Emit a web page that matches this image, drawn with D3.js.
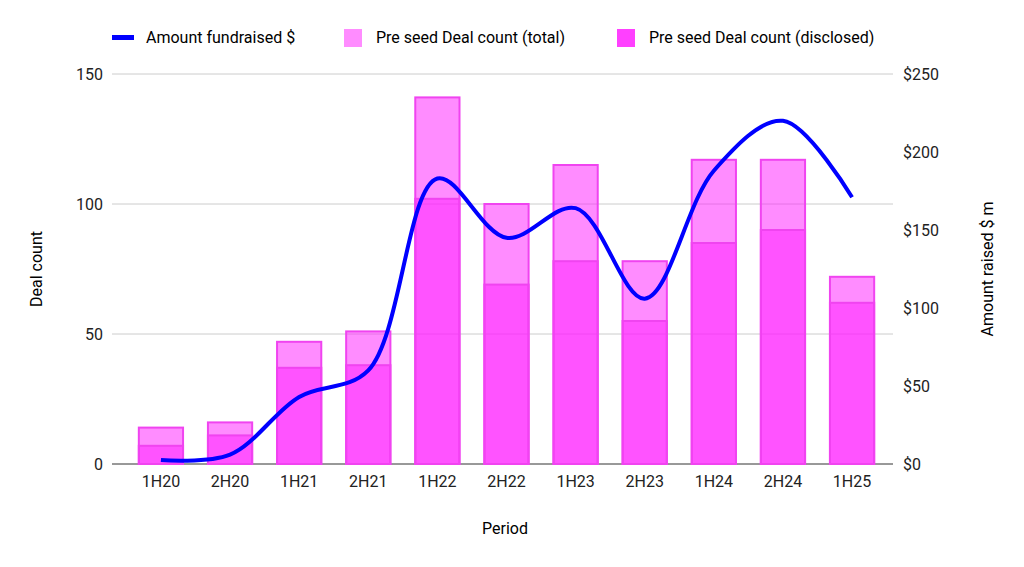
<!DOCTYPE html>
<html>
<head>
<script src="https://cdnjs.cloudflare.com/ajax/libs/d3/7.8.5/d3.min.js"></script>
<style>body{margin:0;background:#fff}text{font-family:Roboto,"Liberation Sans",Arial,sans-serif}</style>
</head>
<body>
<svg id="chart" width="1024" height="567"></svg>
<script>
const periods = ["1H20","2H20","1H21","2H21","1H22","2H22","1H23","2H23","1H24","2H24","1H25"]
const dealsTotal = [14,16,47,51,141,100,115,78,117,117,72]
const dealsDisclosed = [7,11,37,38,102,69,78,55,85,90,62]
const amountRaised = [2.5,6,43,60,183,145,164,106,188,220,171]
const leftTicks = [0,50,100,150]
const rightTicks = [0,50,100,150,200,250]

const svg = d3.select('#chart')
const plotLeft = 112, plotRight = 893, plotTop = 74, plotBottom = 464

const x = d3.scaleBand().domain(periods).range([125, 888]).paddingInner(0.36).paddingOuter(0.2)
const y = d3.scaleLinear().domain([0,150]).range([plotBottom, plotTop])
const y2 = d3.scaleLinear().domain([0,250]).range([plotBottom, plotTop])

// grid
svg.append('g').selectAll('line').data(leftTicks).join('line')
  .attr('x1', plotLeft).attr('x2', plotRight)
  .attr('y1', d => y(d)).attr('y2', d => y(d))
  .style('stroke', d => d === 0 ? '#333' : '#ccc').style('stroke-width', 1)

// axes labels
svg.append('g').selectAll('text').data(leftTicks).join('text')
  .attr('x', 103).attr('y', d => y(d) + 6).attr('text-anchor', 'end')
  .style('font-size', '16px').style('fill', '#222').text(d => d)
svg.append('g').selectAll('text').data(rightTicks).join('text')
  .attr('x', 903).attr('y', d => y2(d) + 6)
  .style('font-size', '16px').style('fill', '#222').text(d => '$' + d)
svg.append('g').selectAll('text').data(periods).join('text')
  .attr('x', d => x(d) + x.bandwidth()/2).attr('y', 487).attr('text-anchor', 'middle')
  .style('font-size', '16px').style('fill', '#222').text(d => d)

svg.append('text').attr('x', 505).attr('y', 534).attr('text-anchor', 'middle')
  .style('font-size', '16px').text('Period')
svg.append('text').attr('transform', 'translate(42,269) rotate(-90)').attr('text-anchor', 'middle')
  .style('font-size', '16px').text('Deal count')
svg.append('text').attr('transform', 'translate(993,269) rotate(-90)').attr('text-anchor', 'middle')
  .style('font-size', '16px').text('Amount raised $ m')

// bars, overlaid
function bars(vals) {
  svg.append('g').selectAll('rect').data(vals).join('rect')
    .attr('x', (d, i) => x(periods[i])).attr('width', x.bandwidth())
    .attr('y', d => y(d)).attr('height', d => plotBottom - y(d))
    .style('fill', '#ff1aff').style('fill-opacity', 0.5)
    .style('stroke', '#f044f0').style('stroke-width', 2)
}
bars(dealsTotal)
bars(dealsDisclosed)

// line
const line = d3.line()
  .x((d, i) => x(periods[i]) + x.bandwidth()/2)
  .y(d => y2(d))
  .curve(d3.curveCatmullRom.alpha(0.5))
svg.append('path').datum(amountRaised).attr('d', line)
  .style('fill', 'none').style('stroke', '#0000ff').style('stroke-width', 4)

// legend
const lg = svg.append('g')
lg.append('rect').attr('x', 112).attr('y', 35).attr('width', 22).attr('height', 5).style('fill', '#0000ff')
lg.append('text').attr('x', 146).attr('y', 43).style('font-size', '16px').text('Amount fundraised $')
lg.append('rect').attr('x', 344).attr('y', 29).attr('width', 18).attr('height', 18).style('fill', '#ff8cff')
lg.append('text').attr('x', 376).attr('y', 43).style('font-size', '16px').text('Pre seed Deal count (total)')
lg.append('rect').attr('x', 617).attr('y', 29).attr('width', 18).attr('height', 18).style('fill', '#ff40ff')
lg.append('text').attr('x', 649).attr('y', 43).style('font-size', '16px').text('Pre seed Deal count (disclosed)')
</script>
</body>
</html>
